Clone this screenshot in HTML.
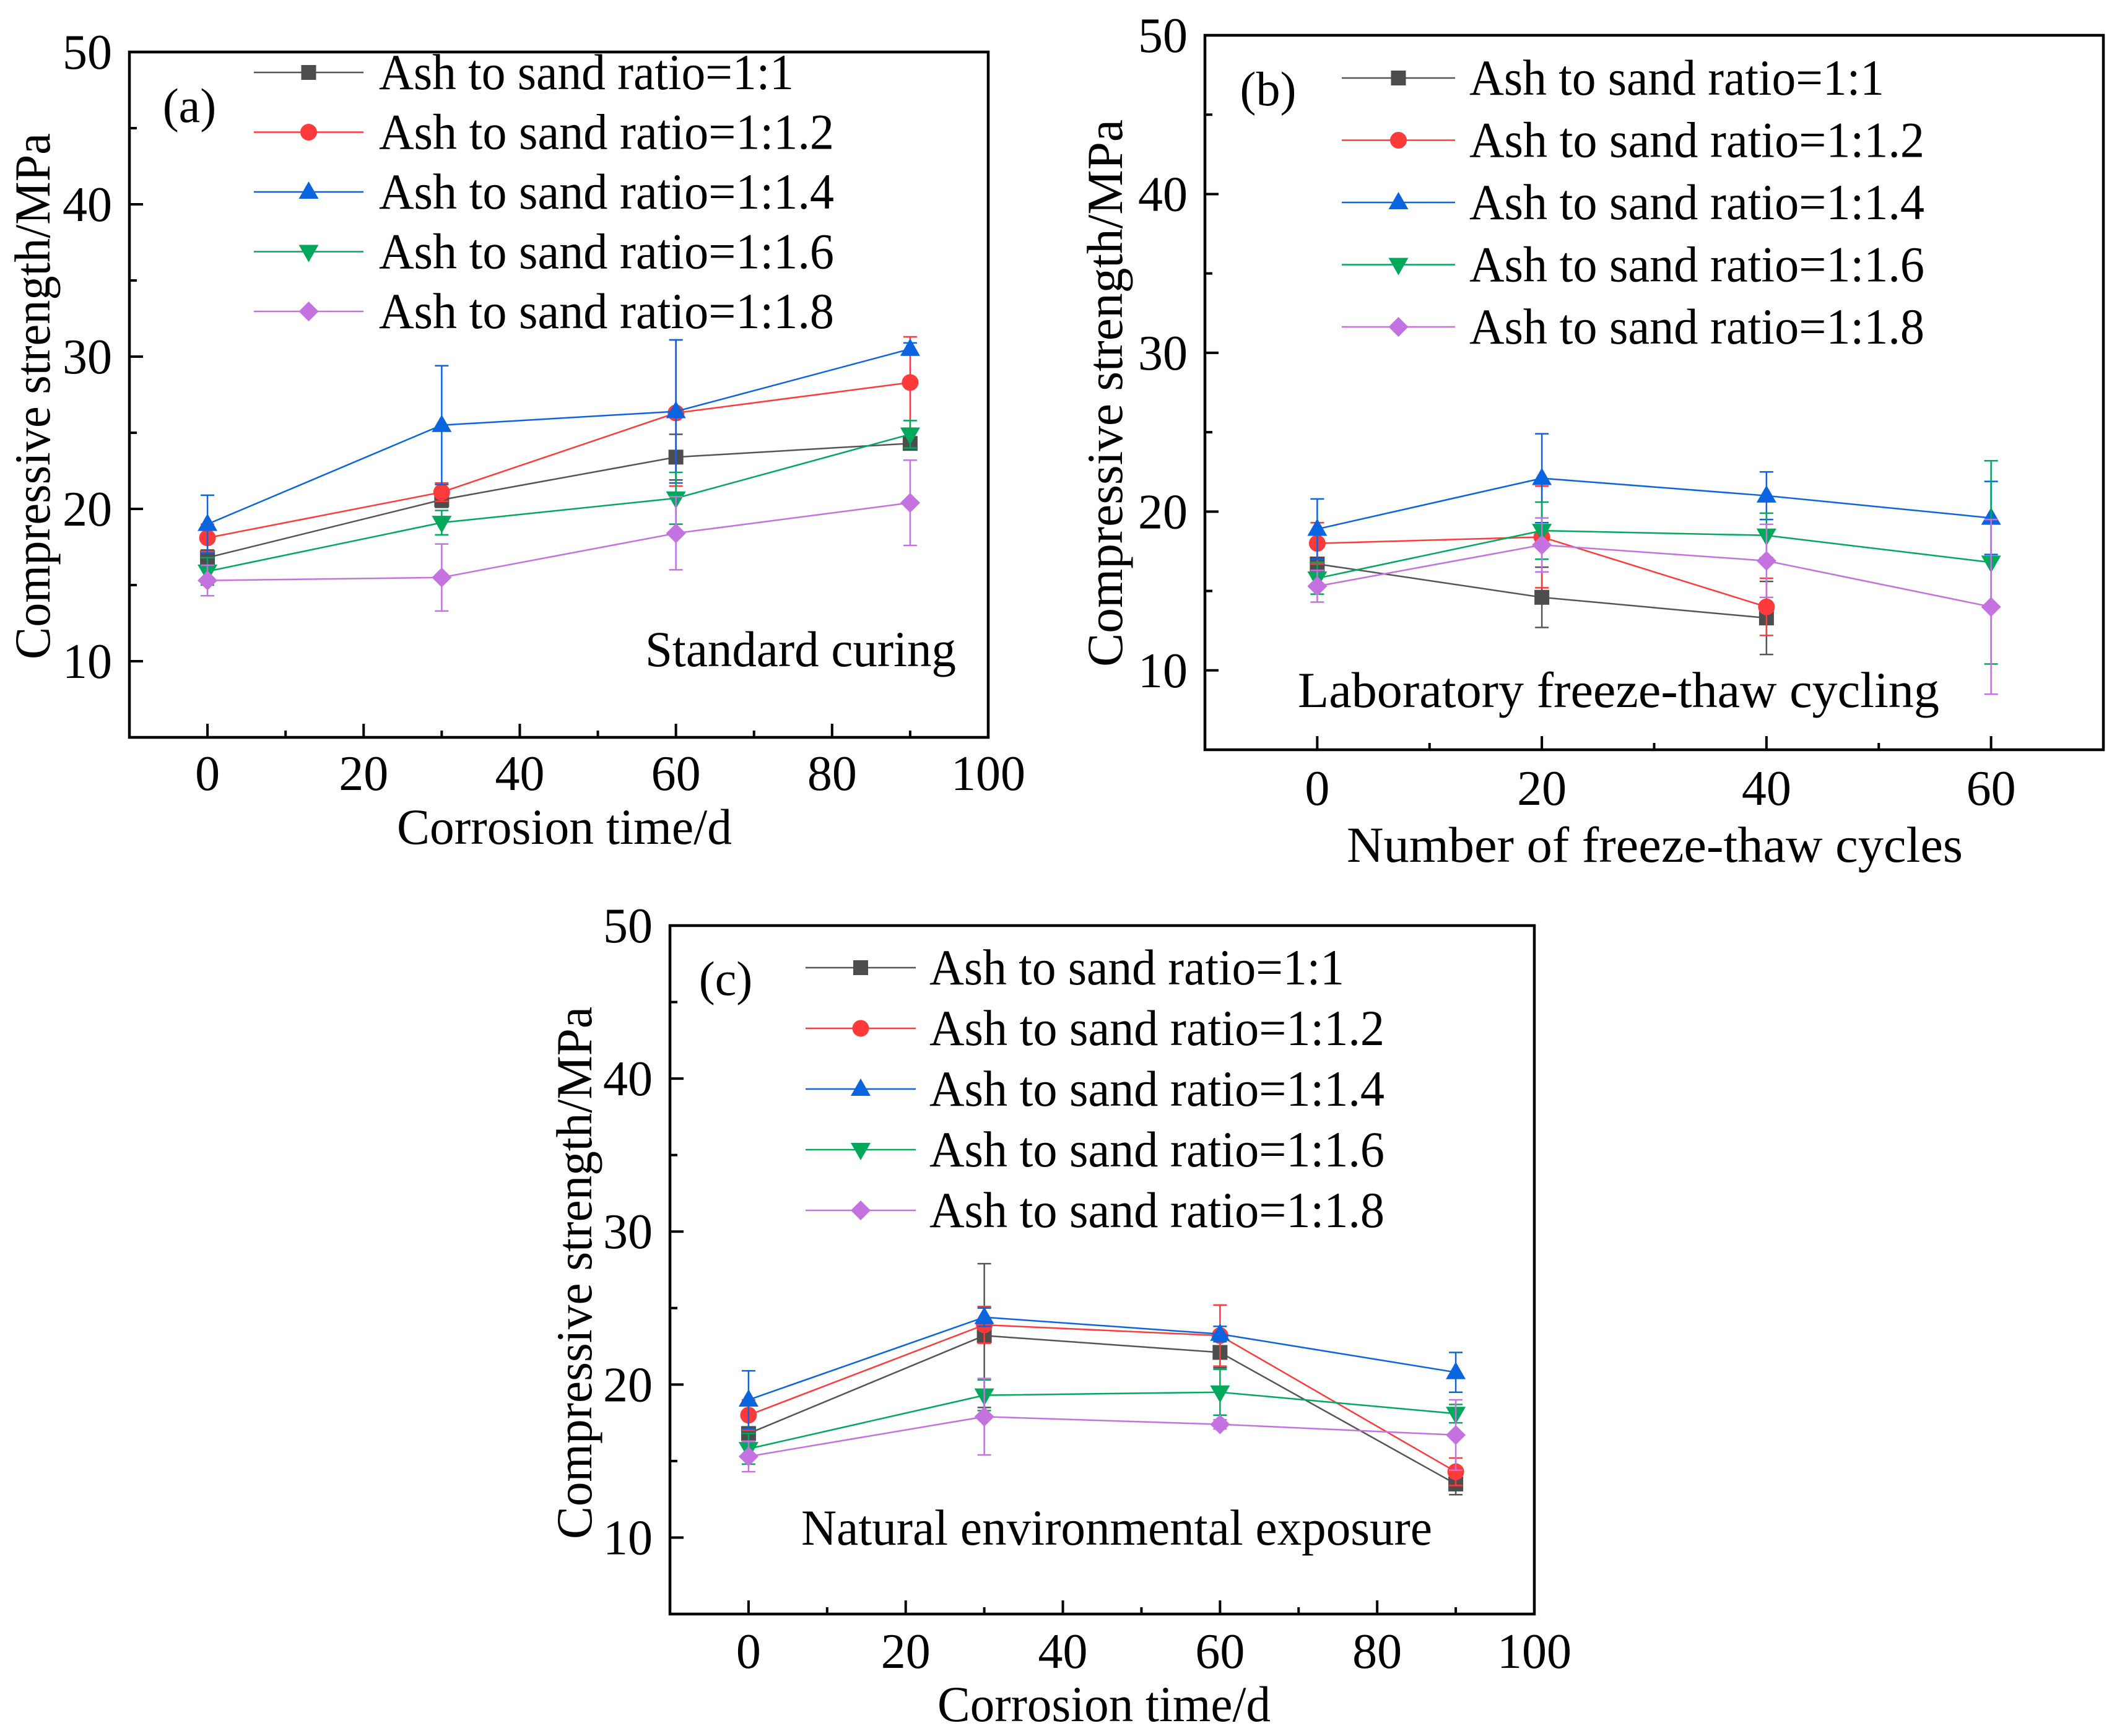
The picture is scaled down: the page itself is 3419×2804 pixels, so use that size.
<!DOCTYPE html>
<html><head><meta charset="utf-8">
<style>
html,body{margin:0;padding:0;background:#fff;}
svg{display:block;font-family:"Liberation Serif","Times New Roman",serif;}
svg text{font-family:"Liberation Serif","Times New Roman",serif;fill:#000;}
</style></head>
<body>
<svg id="chart" width="3419" height="2804" viewBox="0 0 3419 2804" xmlns="http://www.w3.org/2000/svg" font-family="Liberation Serif, serif"></svg>
<script>
// ---------- data ----------
const seriesNames = ["Ash to sand ratio=1:1","Ash to sand ratio=1:1.2","Ash to sand ratio=1:1.4","Ash to sand ratio=1:1.6","Ash to sand ratio=1:1.8"];
const xA = [0,30,60,90];
const xB = [0,20,40,60];
const xC = [0,30,60,90];
// panel (a) standard curing
const a11 = [16.8,20.6,23.4,24.3];   const a11e = [0.5,0.5,1.5,0.3];
const a12 = [18.1,21.1,26.3,28.3];   const a12e = [0.9,0.6,4.8,3.0];
const a14 = [19.0,25.5,26.4,30.5];   const a14e = [1.9,3.9,4.7,0.4];
const a16 = [15.9,19.1,20.7,24.9];   const a16e = [0.9,0.8,1.7,0.9];
const a18 = [15.3,15.5,18.4,20.4];   const a18e = [1.0,2.2,2.4,2.8];
// panel (b) freeze-thaw (1:1 and 1:1.2 end at 40 cycles)
const b11 = [16.7,14.6,13.3];        const b11e = [0.4,1.9,2.3];
const b12 = [18.0,18.4,14.0];        const b12e = [1.3,3.2,1.8];
const b14 = [18.9,22.1,21.0,19.6];   const b14e = [1.9,2.8,1.5,2.3];
const b16 = [15.8,18.8,18.5,16.8];   const b16e = [1.0,1.8,1.4,6.4];
const b18 = [15.3,17.9,16.9,14.0];   const b18e = [1.0,1.7,2.3,5.5];
// panel (c) natural exposure
const c11 = [16.8,23.2,22.1,13.5];   const c11e = [0.4,4.7,1.0,0.7];
const c12 = [18.0,23.9,23.2,14.3];   const c12e = [1.0,1.2,2.0,0.9];
const c14 = [19.0,24.4,23.3,20.8];   const c14e = [1.9,0.6,0.5,1.3];
const c16 = [15.8,19.3,19.5,18.1];   const c16e = [1.0,1.0,1.5,0.6];
const c18 = [15.3,17.9,17.4,16.7];   const c18e = [1.0,2.5,0.3,2.3];
const yTicks = [10,20,30,40,50];
const xTicksA = [0,20,40,60,80,100];
const xTicksB = [0,20,40,60];
const xTicksC = [0,20,40,60,80,100];

const colors = ["#4d4d4d","#ff3a3a","#0a64e0","#00a85c","#c472e0"];
const lineColors = ["#555555","#ff3a3a","#0a64e0","#00a85c","#c472e0"];
const shapes = ["square","circle","up","down","diamond"];
const NS = "http://www.w3.org/2000/svg";
const FONT = '"Liberation Serif", "Times New Roman", serif';
const svg = document.getElementById("chart");

function el(tag, attrs, parent){
  const e = document.createElementNS(NS, tag);
  for (const k in attrs) e.setAttribute(k, attrs[k]);
  (parent||svg).appendChild(e);
  return e;
}
function txt(str, attrs, parent){
  const t = el("text", attrs, parent);
  t.setAttribute("font-family", FONT);
  t.style.fontFamily = FONT;
  t.textContent = str;
  return t;
}
function marker(g, shape, cx, cy, color){
  let m;
  if (shape==="square") m = el("rect",{x:cx-12,y:cy-12,width:24,height:24,fill:color},g);
  else if (shape==="circle") m = el("circle",{cx:cx,cy:cy,r:13.5,fill:color},g);
  else if (shape==="up") m = el("polygon",{points:`${cx},${cy-17} ${cx+16},${cy+11} ${cx-16},${cy+11}`,fill:color},g);
  else if (shape==="down") m = el("polygon",{points:`${cx},${cy+17} ${cx+16},${cy-11} ${cx-16},${cy-11}`,fill:color},g);
  else m = el("polygon",{points:`${cx},${cy-16} ${cx+16},${cy} ${cx},${cy+16} ${cx-16},${cy}`,fill:color},g);
  return m;
}

function panel(cfg){
  const g = el("g",{});
  
  
  const X = v => cfg.L + (v - cfg.xmin)/(cfg.xmax-cfg.xmin)*(cfg.R-cfg.L);
  const Y = v => cfg.B - (v - 5)/(50-5)*(cfg.B-cfg.T);
  const tg = el("g",{stroke:"#000","stroke-width":4},g);
  
  
  for (let v=10; v<=50; v+=5){
    const len = (v%10===0)?22:12;
    el("line",{x1:cfg.L,x2:cfg.L+len,y1:Y(v),y2:Y(v)},tg);
  }
  for (let v=0; v<cfg.xmax; v+=10){
    const len = (v%20===0)?22:11;
    el("line",{x1:X(v),x2:X(v),y1:cfg.B,y2:cfg.B-len},tg);
  }
  yTicks.forEach(v=>{
    const t = txt(String(v),{x:cfg.L-28,y:Y(v)+27,"font-size":80,"text-anchor":"end"},g);
    
    
  });
  cfg.xticks.forEach(v=>{
    const t = txt(String(v),{x:X(v),y:cfg.xlabY,"font-size":80,"text-anchor":"middle"},g);
    
    
  });
  cfg.series.forEach((s,i)=>{
    const sg = el("g",{},g);
    
    
    const xs = cfg.xs.slice(0, s.v.length);
    s.v.forEach((v,j)=>{
      const e = s.e[j], x = X(xs[j]);
      const eb = el("g",{stroke:lineColors[i],"stroke-width":2.5},sg);
      
      
      el("line",{x1:x,x2:x,y1:Y(v+e),y2:Y(v-e)},eb);
      el("line",{x1:x-11,x2:x+11,y1:Y(v+e),y2:Y(v+e)},eb);
      el("line",{x1:x-11,x2:x+11,y1:Y(v-e),y2:Y(v-e)},eb);
    });
    const pts = s.v.map((v,j)=>X(xs[j])+","+Y(v)).join(" ");
    const pl = el("polyline",{points:pts,fill:"none",stroke:lineColors[i],"stroke-width":2.5},sg);
    
    
    s.v.forEach((v,j)=>{
      const m = marker(sg, shapes[i], X(xs[j]), Y(v), colors[i]);
      
      
    });
  });
  const fr = el("rect",{x:cfg.L,y:cfg.T,width:cfg.R-cfg.L,height:cfg.B-cfg.T,fill:"none",stroke:"#000","stroke-width":4.5},g);
  
  
  const lg = el("g",{},g);
  
  
  seriesNames.forEach((n,i)=>{
    const y = cfg.leg.y0 + i*cfg.leg.dy;
    const eg = el("g",{},lg);
    
    
    el("line",{x1:cfg.leg.x1,x2:cfg.leg.x2,y1:y,y2:y,stroke:lineColors[i],"stroke-width":2.5},eg);
    marker(eg, shapes[i], (cfg.leg.x1+cfg.leg.x2)/2, y, colors[i]);
    const w = (n.length===21)?670:735;
    txt(n,{x:cfg.leg.tx,y:y+27,"font-size":82,textLength:w,lengthAdjust:"spacingAndGlyphs"},eg);
  });
  const pl = txt(cfg.label,{x:cfg.labX,y:cfg.labY,"font-size":78,"text-anchor":"middle"},g);
  
  
  const an = txt(cfg.ann.t,{x:cfg.ann.x,y:cfg.ann.y,"font-size":82,textLength:cfg.ann.w,lengthAdjust:"spacingAndGlyphs"},g);
  
  
  const xt = txt(cfg.xt.t,{x:cfg.xt.x,y:cfg.xt.y,"font-size":82,textLength:cfg.xt.w,lengthAdjust:"spacingAndGlyphs"},g);
  
  
  const yt = txt("Compressive strength/MPa",{x:0,y:0,"font-size":82,"text-anchor":"middle",textLength:cfg.yt.w,lengthAdjust:"spacingAndGlyphs",transform:`translate(${cfg.yt.x},${cfg.yt.y}) rotate(-90)`},g);
  
  
}

panel({name:"panel-a-standard-curing",L:209,R:1596,T:84,B:1191,xmin:-10,xmax:100,xs:xA,xticks:xTicksA,xlabY:1276,
  series:[{v:a11,e:a11e},{v:a12,e:a12e},{v:a14,e:a14e},{v:a16,e:a16e},{v:a18,e:a18e}],
  leg:{x1:410,x2:587,tx:612,y0:117,dy:96.5},label:"(a)",labX:306,labY:197,
  ann:{t:"Standard curing",x:1042,y:1076,w:502},
  xt:{t:"Corrosion time/d",x:641,y:1363,w:541},
  yt:{x:80,y:640,w:850}});

panel({name:"panel-b-freeze-thaw",L:1946,R:3397,T:57,B:1211,xmin:-10,xmax:70,xs:xB,xticks:xTicksB,xlabY:1300,
  series:[{v:b11,e:b11e},{v:b12,e:b12e},{v:b14,e:b14e},{v:b16,e:b16e},{v:b18,e:b18e}],
  leg:{x1:2167,x2:2350,tx:2373,y0:126,dy:100.5},label:"(b)",labX:2048,labY:170,
  ann:{t:"Laboratory freeze-thaw cycling",x:2096,y:1142,w:1036},
  xt:{t:"Number of freeze-thaw cycles",x:2175,y:1392,w:995},
  yt:{x:1812,y:635,w:884}});

panel({name:"panel-c-natural-exposure",L:1082,R:2478,T:1495,B:2607,xmin:-10,xmax:100,xs:xC,xticks:xTicksC,xlabY:2694,
  series:[{v:c11,e:c11e},{v:c12,e:c12e},{v:c14,e:c14e},{v:c16,e:c16e},{v:c18,e:c18e}],
  leg:{x1:1301,x2:1479,tx:1501,y0:1563,dy:98},label:"(c)",labX:1172,labY:1607,
  ann:{t:"Natural environmental exposure",x:1294,y:2495,w:1019},
  xt:{t:"Corrosion time/d",x:1514,y:2780,w:538},
  yt:{x:955,y:2056,w:860}});
</script>
</body></html>
